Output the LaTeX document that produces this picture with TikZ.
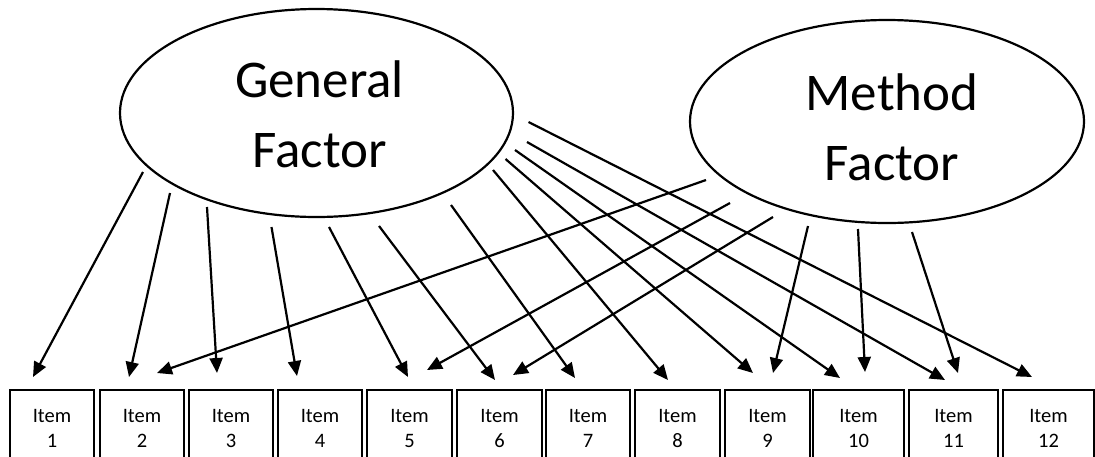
\documentclass[tikz,border=0pt]{standalone}
\usepackage{fontspec}
\setmainfont{Carlito}
\usetikzlibrary{arrows.meta,calc,shapes.geometric}

\begin{document}
\begin{tikzpicture}[x=1pt,y=-1pt,
  factor/.style={ellipse,draw,line width=2.2pt,inner sep=0pt},
  factortext/.style={align=center,font=\fontsize{53}{70}\selectfont,inner sep=0pt},
  itembox/.style={rectangle,draw,line width=2pt,anchor=north,minimum height=76pt,
    align=center,font=\fontsize{20.5}{25}\selectfont,inner sep=0pt},
  load/.style={line width=2.2pt,-{Triangle[length=15pt,width=13pt]}},
]
\useasboundingbox (0,0) rectangle (1095,456);
\clip (0,0) rectangle (1095,456);

% latent factors
\node[factor,minimum width=393pt,minimum height=208pt] (GF) at (316.5,113) {};
\node[factor,minimum width=394pt,minimum height=203pt] (MF) at (887,121.5) {};
\node[factortext] (GFtext) at ($(GF.center)+(3,1.5)$) {General\\Factor};
\node[factortext] (MFtext) at ($(MF.center)+(5,6)$) {Method\\Factor};

% observed items
\foreach \i/\l/\r in {1/10/94,2/100/184,3/189/273,4/278/362,5/367/452,6/457/542,
                      7/546/630,8/635/720,9/725/810,10/813/904,11/909/998,12/1003/1094}
  \node[itembox,minimum width={(\r-\l)*1pt}] (I\i) at ({(\l+\r)/2},389) {Item\\\i};

% general factor loadings
\foreach \i/\sx/\sy/\ex/\ey in {1/-173.5/59/-19/-12, 2/-146.5/80/-13/-12,
    3/-109.5/94/-14/-16, 4/-45/114/-23/-13, 5/12.5/114/-1.5/-12,
    6/62.5/113/-4.5/-9, 7/134.5/92/-13/-11, 8/176.5/57/-9.5/-9,
    9/189/46/-14.5/-16, 10/198.5/37/-18.5/-11, 11/210.5/29/-8.5/-9,
    12/212/9/-16.5/-12}
  \draw[load] ($(GF.center)+(\sx,\sy)$) -- ($(I\i.north)+(\ex,\ey)$);

% method factor loadings
\foreach \i/\sx/\sy/\ex/\ey in {2/-181/58.5/15/-16, 5/-157/81.5/17.5/-19,
    6/-114/95.5/13.5/-14, 9/-79/104.5/5.5/-16, 10/-29/107.5/6.5/-17,
    11/25/110.5/4.5/-16}
  \draw[load] ($(MF.center)+(\sx,\sy)$) -- ($(I\i.north)+(\ex,\ey)$);
\end{tikzpicture}
\end{document}
